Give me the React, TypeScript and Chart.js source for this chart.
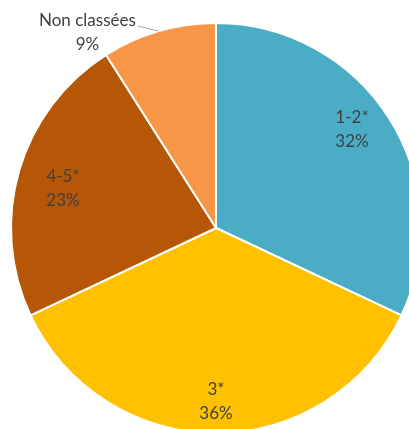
import React, { useEffect, useRef } from "react";
import { Chart, registerables } from "chart.js";

Chart.register(...registerables);

const categories = ["1-2*", "3*", "4-5*", "Non classées"];
const shares = [32, 36, 23, 9];
const colors = ["#4BACC6", "#FFC000", "#B65708", "#F79646"];

const FONT = "17px Lato";
const TEXT_COLOR = "#404040";

// inside-label placement: fraction of radius and small angular nudge (degrees)
const LABEL_RADIUS = [0.82, 0.845, 0.77];
const LABEL_ANGLE_NUDGE = [-3.6, 0, -1.9];

const labelPlugin = {
  id: "pieLabels",
  afterDatasetsDraw(chart: any) {
    const ctx = chart.ctx;
    const meta = chart.getDatasetMeta(0);
    ctx.save();
    ctx.font = FONT;
    ctx.fillStyle = TEXT_COLOR;
    ctx.textBaseline = "middle";
    const lineGap = 24;
    meta.data.forEach((arc: any, i: number) => {
      const { x, y, startAngle, endAngle, outerRadius } = arc.getProps(
        ["x", "y", "startAngle", "endAngle", "outerRadius"],
        true
      );
      const mid = (startAngle + endAngle) / 2;
      const name = categories[i];
      const pct = shares[i] + "%";
      if (i === 3) {
        const ex = x + Math.cos(mid) * outerRadius;
        const ey = y + Math.sin(mid) * outerRadius;
        const lx = ex - 21;
        const ly = ey - 5;
        ctx.strokeStyle = "#A6A6A6";
        ctx.lineWidth = 1;
        ctx.beginPath();
        ctx.moveTo(ex, ey);
        ctx.lineTo(lx, ly);
        ctx.stroke();
        const w = ctx.measureText(name).width;
        const cx = lx - 2 - w / 2;
        ctx.textAlign = "center";
        ctx.fillText(name, cx, ly - 6);
        ctx.fillText(pct, cx, ly - 6 + lineGap);
      } else {
        const a = mid + (LABEL_ANGLE_NUDGE[i] * Math.PI) / 180;
        const r = outerRadius * LABEL_RADIUS[i];
        const cx = x + Math.cos(a) * r;
        const cy = y + Math.sin(a) * r;
        ctx.textAlign = "center";
        ctx.fillText(name, cx, cy - lineGap / 2);
        ctx.fillText(pct, cx, cy + lineGap / 2);
      }
    });
    ctx.restore();
  },
};

export default function App() {
  const ref = useRef<HTMLCanvasElement | null>(null);
  useEffect(() => {
    if (!ref.current) return;
    const chart = new Chart(ref.current, {
      type: "pie",
      data: {
        labels: categories,
        datasets: [
          {
            data: shares,
            backgroundColor: colors,
            borderColor: "#FFFFFF",
            borderWidth: 2,
          },
        ],
      },
      options: {
        animation: false,
        responsive: false,
        radius: 205,
        layout: { padding: 0 },
        plugins: {
          legend: { display: false },
          tooltip: { enabled: false },
        },
      } as any,
      plugins: [labelPlugin],
    });
    return () => chart.destroy();
  }, []);
  return (
    <div
      style={{
        position: "fixed",
        left: 0,
        top: 0,
        width: 409,
        height: 429,
        overflow: "hidden",
        background: "#FFFFFF",
      }}
    >
      <canvas
        ref={ref}
        width={432}
        height={456}
        style={{ position: "absolute", left: 0, top: 0, width: 432, height: 456 }}
      />
    </div>
  );
}
